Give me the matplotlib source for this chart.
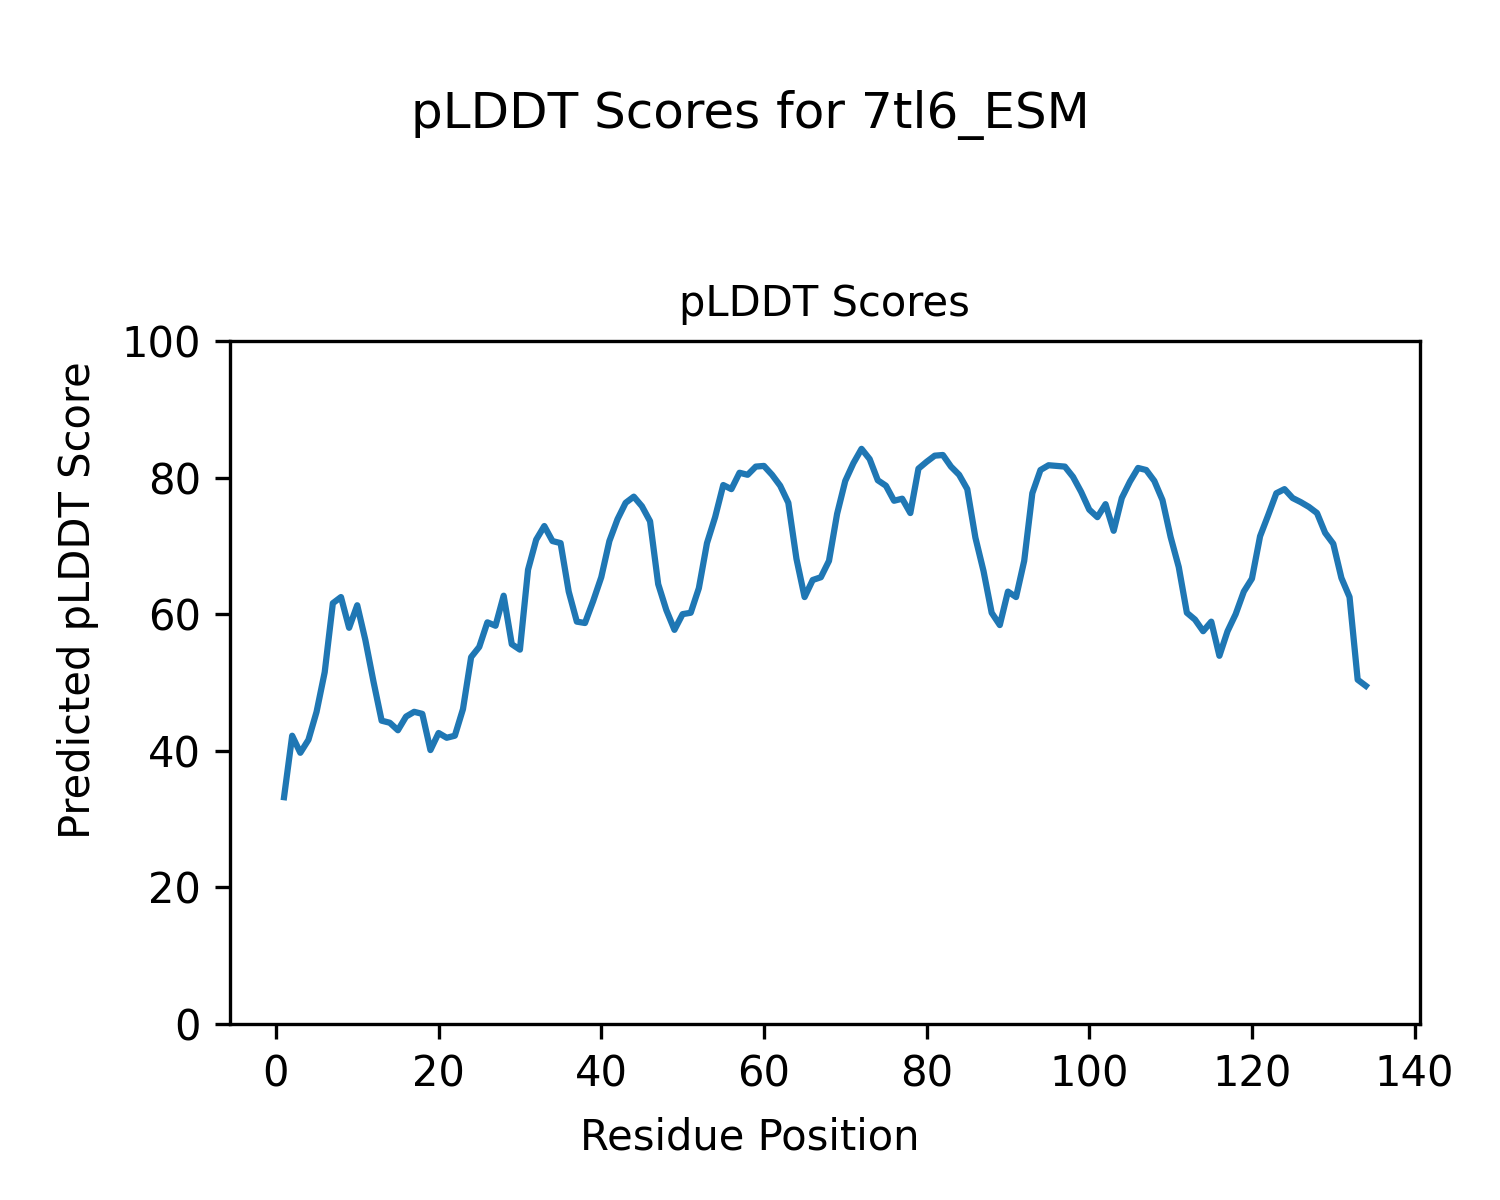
import numpy as np
import matplotlib
matplotlib.use("Agg")
import matplotlib.pyplot as plt

protein_id = "7tl6_ESM"

# per-residue pLDDT
plddt = [
    33.2, 42.2, 39.7, 41.6, 45.7, 51.5, 61.6, 62.5, 58.0, 61.3,
    56.2, 50.1, 44.4, 44.1, 43.0, 45.0, 45.7, 45.4, 40.1, 42.6,
    41.9, 42.2, 46.1, 53.7, 55.2, 58.8, 58.3, 62.7, 55.6, 54.8,
    66.5, 70.9, 72.9, 70.7, 70.4, 63.3, 58.9, 58.7, 61.9, 65.4,
    70.7, 73.9, 76.3, 77.2, 75.8, 73.6, 64.4, 60.6, 57.7, 60.0,
    60.2, 63.8, 70.4, 74.2, 78.9, 78.3, 80.7, 80.4, 81.6, 81.7,
    80.4, 78.8, 76.3, 68.1, 62.5, 65.0, 65.4, 67.8, 74.7, 79.5,
    82.1, 84.2, 82.7, 79.6, 78.8, 76.6, 76.9, 74.8, 81.3, 82.3,
    83.2, 83.3, 81.6, 80.4, 78.3, 71.2, 66.3, 60.2, 58.4, 63.3,
    62.5, 67.8, 77.7, 81.1, 81.8, 81.7, 81.6, 80.1, 77.9, 75.3,
    74.2, 76.1, 72.2, 77.0, 79.4, 81.4, 81.1, 79.5, 76.7, 71.3,
    66.9, 60.2, 59.2, 57.5, 58.9, 53.9, 57.5, 60.0, 63.3, 65.2,
    71.4, 74.5, 77.7, 78.3, 77.0, 76.4, 75.7, 74.8, 71.9, 70.3,
    65.3, 62.5, 50.4, 49.5,
]
residues = np.arange(1, len(plddt) + 1)

fig = plt.figure(figsize=(5, 4), dpi=300)
fig.suptitle(f"pLDDT Scores for {protein_id}", fontsize=12, y=0.925)
ax = fig.add_axes([0.1533, 0.1467, 0.7933, 0.5692])
ax.plot(residues, plddt, color="#1f77b4", linewidth=1.5)
ax.set_title("pLDDT Scores", fontsize=10)
ax.set_ylim(0, 100)
fig.supxlabel("Residue Position", fontsize=10, y=0.0517, va="center")
fig.supylabel("Predicted pLDDT Score", fontsize=10, x=0.052, ha="center")

fig.savefig("out.png", dpi=300)
